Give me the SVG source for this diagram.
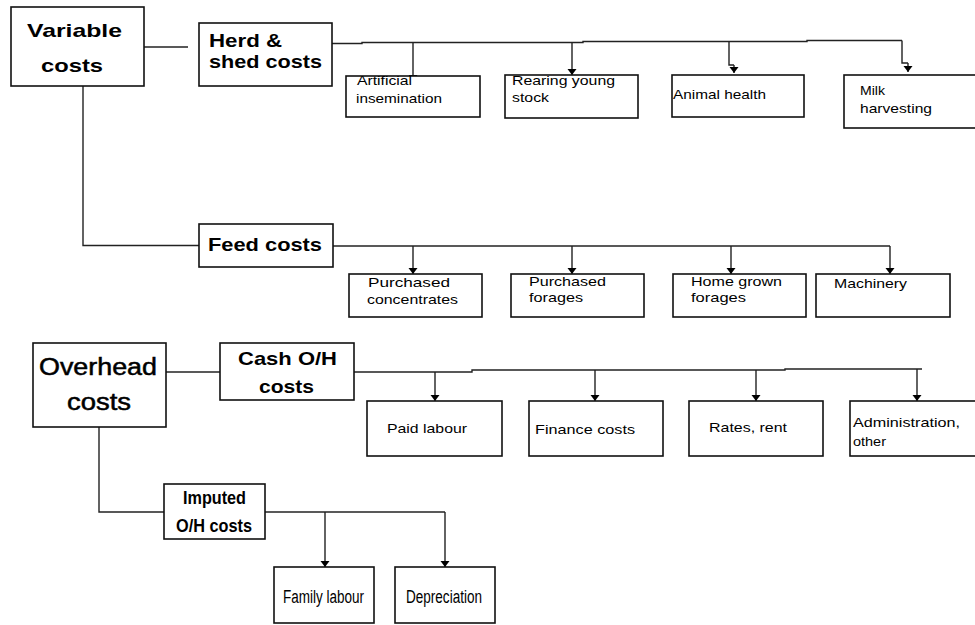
<svg xmlns="http://www.w3.org/2000/svg" width="975" height="625" viewBox="0 0 975 625">
<defs>
<marker id="ah" markerUnits="userSpaceOnUse" markerWidth="10" markerHeight="12" refX="6" refY="4.5" orient="auto">
<path d="M0,0 L6,4.5 L0,9 Z" fill="#000"/>
</marker>
<style>
.box{fill:#fff;stroke:#111;stroke-width:1.6}
.c{fill:none;stroke:#222;stroke-width:1.4}
.a{fill:none;stroke:#222;stroke-width:1.4;marker-end:url(#ah)}
.t{font-family:"Liberation Sans",Arial,sans-serif;fill:#000}
.b{font-weight:bold;font-size:19px}
.s{font-size:13.5px}
.m{font-size:18px}
</style>
</defs>
<rect width="975" height="625" fill="#fff"/>
<g id="connectors">
<path class="c" d="M133 47 H188"/>
<path class="c" d="M83 86 V245.5 H199"/>
<path class="c" d="M332 43.5 H362 V42.5 H583 V41.5 H807 V40.5 H902"/>
<path class="a" d="M413 43 V81"/>
<path class="a" d="M572 42 V75"/>
<path class="c" d="M729 41 V65 H734"/>
<path class="a" d="M734 65 V73"/>
<path class="c" d="M902 40.5 V63 H908"/>
<path class="a" d="M908 63 V72"/>
<path class="c" d="M333 246 H890"/>
<path class="a" d="M413 246 V274"/>
<path class="a" d="M572 246 V274"/>
<path class="a" d="M731 246 V274"/>
<path class="a" d="M890 246 V274"/>
<path class="c" d="M166 372 H220"/>
<path class="c" d="M354 372 H472 V370 H785 V369 H922"/>
<path class="a" d="M435 372 V401"/>
<path class="a" d="M595 370 V401"/>
<path class="a" d="M756 370 V401"/>
<path class="a" d="M917 369 V401"/>
<path class="c" d="M99 427 V512 H164"/>
<path class="c" d="M265 512 H445"/>
<path class="a" d="M325 512 V567"/>
<path class="a" d="M445 512 V567"/>
</g>
<g id="variable">
<rect class="box" x="11" y="7" width="133" height="79"/>
<text class="t b" x="27" y="37" textLength="95" lengthAdjust="spacingAndGlyphs">Variable</text>
<text class="t b" x="41" y="72" textLength="62" lengthAdjust="spacingAndGlyphs">costs</text>
</g>
<g id="herd">
<rect class="box" x="199" y="23" width="133" height="63"/>
<text class="t b" x="209" y="47" textLength="73" lengthAdjust="spacingAndGlyphs">Herd &amp;</text>
<text class="t b" x="209" y="68" textLength="113" lengthAdjust="spacingAndGlyphs">shed costs</text>
</g>
<g id="ai">
<rect class="box" x="346" y="76" width="134" height="41"/>
<text class="t s" x="357" y="85" textLength="55" lengthAdjust="spacingAndGlyphs">Artificial</text>
<text class="t s" x="356" y="103" textLength="86" lengthAdjust="spacingAndGlyphs">insemination</text>
</g>
<g id="rearing">
<rect class="box" x="505" y="75" width="133" height="43"/>
<text class="t s" x="512" y="85" textLength="103" lengthAdjust="spacingAndGlyphs">Rearing young</text>
<text class="t s" x="512" y="102" textLength="37" lengthAdjust="spacingAndGlyphs">stock</text>
</g>
<g id="animal">
<rect class="box" x="672" y="75" width="132" height="42"/>
<text class="t s" x="673" y="99" textLength="93" lengthAdjust="spacingAndGlyphs">Animal health</text>
</g>
<g id="milk">
<rect class="box" x="844" y="75" width="140" height="53"/>
<text class="t s" x="860" y="95" textLength="25" lengthAdjust="spacingAndGlyphs">Milk</text>
<text class="t s" x="860" y="113" textLength="72" lengthAdjust="spacingAndGlyphs">harvesting</text>
</g>
<g id="feed">
<rect class="box" x="199" y="224" width="134" height="43"/>
<text class="t b" x="208" y="251" textLength="114" lengthAdjust="spacingAndGlyphs">Feed costs</text>
</g>
<g id="conc">
<rect class="box" x="349" y="274" width="133" height="43"/>
<text class="t s" x="368" y="287" textLength="82" lengthAdjust="spacingAndGlyphs">Purchased</text>
<text class="t s" x="367" y="304" textLength="91" lengthAdjust="spacingAndGlyphs">concentrates</text>
</g>
<g id="pforages">
<rect class="box" x="511" y="274" width="133" height="43"/>
<text class="t s" x="529" y="286" textLength="77" lengthAdjust="spacingAndGlyphs">Purchased</text>
<text class="t s" x="529" y="302" textLength="54" lengthAdjust="spacingAndGlyphs">forages</text>
</g>
<g id="hforages">
<rect class="box" x="673" y="274" width="133" height="43"/>
<text class="t s" x="691" y="286" textLength="91" lengthAdjust="spacingAndGlyphs">Home grown</text>
<text class="t s" x="691" y="302" textLength="55" lengthAdjust="spacingAndGlyphs">forages</text>
</g>
<g id="machinery">
<rect class="box" x="816" y="274" width="134" height="43"/>
<text class="t s" x="834" y="288" textLength="73" lengthAdjust="spacingAndGlyphs">Machinery</text>
</g>
<g id="overhead">
<rect class="box" x="33" y="343" width="133" height="84"/>
<text class="t" font-size="23" x="39" y="375" textLength="118" lengthAdjust="spacingAndGlyphs" stroke="#000" stroke-width="0.5">Overhead</text>
<text class="t" font-size="23" x="67" y="410" textLength="64" lengthAdjust="spacingAndGlyphs" stroke="#000" stroke-width="0.5">costs</text>
</g>
<g id="cash">
<rect class="box" x="220" y="343" width="134" height="57"/>
<text class="t b" x="238" y="365" textLength="99" lengthAdjust="spacingAndGlyphs">Cash O/H</text>
<text class="t b" x="259" y="393" textLength="55" lengthAdjust="spacingAndGlyphs">costs</text>
</g>
<g id="paid">
<rect class="box" x="367" y="401" width="135" height="55"/>
<text class="t s" x="387" y="433" textLength="80" lengthAdjust="spacingAndGlyphs">Paid labour</text>
</g>
<g id="finance">
<rect class="box" x="529" y="401" width="134" height="55"/>
<text class="t s" x="535" y="434" textLength="100" lengthAdjust="spacingAndGlyphs">Finance costs</text>
</g>
<g id="rates">
<rect class="box" x="689" y="401" width="134" height="55"/>
<text class="t s" x="709" y="432" textLength="78" lengthAdjust="spacingAndGlyphs">Rates, rent</text>
</g>
<g id="admin">
<rect class="box" x="850" y="401" width="134" height="55"/>
<text class="t s" x="853" y="427" textLength="107" lengthAdjust="spacingAndGlyphs">Administration,</text>
<text class="t s" x="853" y="446" textLength="33" lengthAdjust="spacingAndGlyphs">other</text>
</g>
<g id="imputed">
<rect class="box" x="164" y="484" width="101" height="55"/>
<text class="t b" x="183" y="504" textLength="63" lengthAdjust="spacingAndGlyphs">Imputed</text>
<text class="t b" x="176" y="532" textLength="76" lengthAdjust="spacingAndGlyphs">O/H costs</text>
</g>
<g id="family">
<rect class="box" x="274" y="567" width="100" height="56"/>
<text class="t m" x="283" y="603" textLength="81" lengthAdjust="spacingAndGlyphs">Family labour</text>
</g>
<g id="depreciation">
<rect class="box" x="395" y="567" width="100" height="56"/>
<text class="t m" x="406" y="603" textLength="76" lengthAdjust="spacingAndGlyphs">Depreciation</text>
</g>
</svg>
